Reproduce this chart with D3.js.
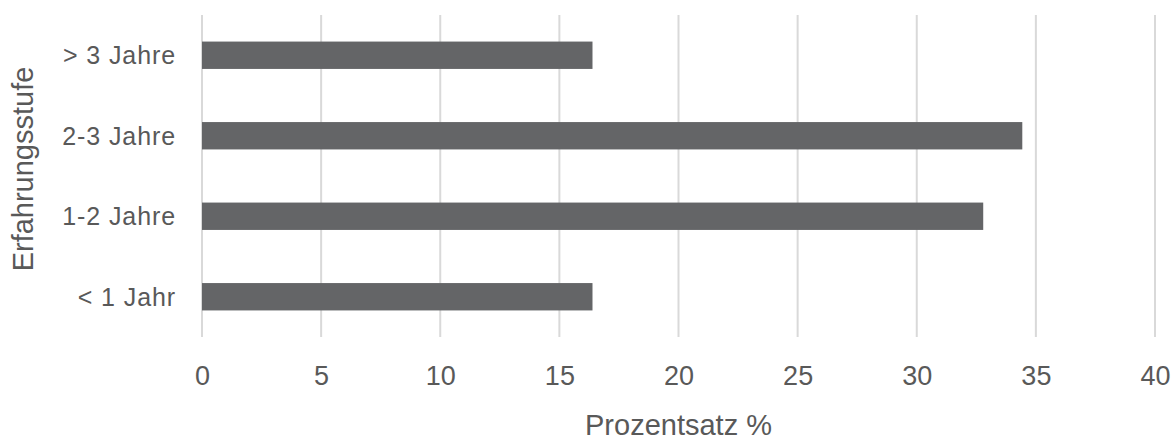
<!DOCTYPE html>
<html>
<head>
<meta charset="utf-8">
<script src="https://cdn.jsdelivr.net/npm/d3@7"></script>
<style>
  html, body { margin: 0; padding: 0; background: #ffffff; }
  svg { display: block; }
  text { font-family: "Liberation Sans", Arial, sans-serif; fill: #595959; }
</style>
</head>
<body>
<svg id="chart" width="1173" height="441"></svg>
<script>
// Erfahrungsstufe der Befragten (Anteil in %)
const categories = ["> 3 Jahre", "2-3 Jahre", "1-2 Jahre", "< 1 Jahr"];
const values = [16.39, 34.43, 32.79, 16.39];
const xTicks = [0, 5, 10, 15, 20, 25, 30, 35, 40];
const xTitle = "Prozentsatz %";
const yTitle = "Erfahrungsstufe";

const svg = d3.select("#chart");
const margin = { left: 202, right: 18, top: 15, bottom: 104 };
const W = 1173, H = 441;

const x = d3.scaleLinear()
  .domain([0, 40])
  .range([margin.left, W - margin.right]);

const y = d3.scaleBand()
  .domain(categories)
  .range([margin.top, H - margin.bottom])
  .paddingInner(0.66)
  .paddingOuter(0.33);

// vertical gridlines
svg.append("g")
  .selectAll("line")
  .data(xTicks)
  .join("line")
  .attr("x1", d => x(d))
  .attr("x2", d => x(d))
  .attr("y1", margin.top)
  .attr("y2", H - margin.bottom)
  .attr("stroke", "#d9d9d9")
  .attr("stroke-width", 2);

// bars
svg.append("g")
  .selectAll("rect")
  .data(values)
  .join("rect")
  .attr("x", x(0))
  .attr("y", (d, i) => y(categories[i]))
  .attr("width", d => x(d) - x(0))
  .attr("height", y.bandwidth())
  .attr("fill", "#646567");

// x axis labels
const xAxis = d3.axisBottom(x).tickValues(xTicks).tickSize(0).tickPadding(0);
const gx = svg.append("g")
  .attr("transform", "translate(0, 385)")
  .call(xAxis);
gx.select(".domain").remove();
gx.selectAll("text")
  .attr("dy", 0)
  .style("font-size", "27px")
  .style("font-family", "'Liberation Sans', Arial, sans-serif")
  .attr("fill", "#595959");

// y axis labels
const yAxis = d3.axisLeft(y).tickSize(0).tickPadding(0);
const gy = svg.append("g")
  .attr("transform", `translate(${margin.left - 26}, 0)`)
  .call(yAxis);
gy.select(".domain").remove();
gy.selectAll("text")
  .attr("dy", "0.36em")
  .style("font-size", "25px")
  .style("letter-spacing", "0.9px")
  .style("font-family", "'Liberation Sans', Arial, sans-serif")
  .attr("fill", "#595959");

// axis titles
svg.append("text")
  .attr("x", x(20))
  .attr("y", 435)
  .attr("text-anchor", "middle")
  .style("font-size", "29px")
  .text(xTitle);

svg.append("text")
  .attr("transform", `translate(33, ${(margin.top + H - margin.bottom) / 2 - 7}) rotate(-90)`)
  .attr("text-anchor", "middle")
  .style("font-size", "29px")
  .text(yTitle);
</script>
</body>
</html>
